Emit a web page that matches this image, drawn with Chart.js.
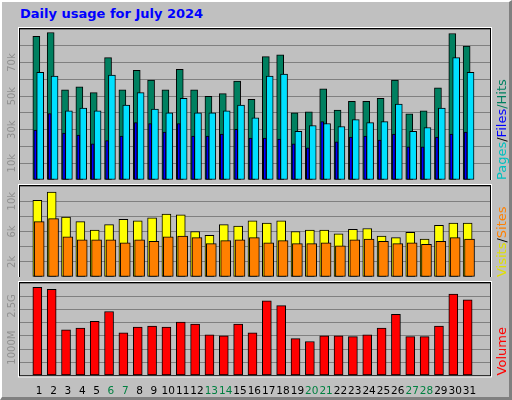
<!DOCTYPE html>
<html>
<head>
<meta charset="utf-8">
<script src="https://cdn.jsdelivr.net/npm/chart.js@4"></script>
<style>
  body { margin: 0; background: #c0c0c0; }
  #page { position: relative; width: 507px; height: 395px; background: #c0c0c0;
          border-top: 2px solid #fff; border-left: 2px solid #fff;
          border-right: 3px solid #808080; border-bottom: 3px solid #808080; overflow: hidden; }
  #title { position: absolute; left: 18px; top: 4px; font: bold 13px "DejaVu Sans"; color: #0000ff; }
  canvas { position: absolute; left: -2px; }
</style>
</head>
<body>
<div id="page">
  <div id="title">Daily usage for July 2024</div>
  <canvas id="c1" width="512" height="156" style="top:22px"></canvas>
  <canvas id="c2" width="512" height="96" style="top:179px"></canvas>
  <canvas id="c3" width="512" height="122" style="top:276px"></canvas>
</div>
<script>
const days = Array.from({ length: 31 }, (_, i) => i + 1);
const weekend = [6, 7, 13, 14, 20, 21, 27, 28];

const hits = [85.6, 87.9, 53.8, 55.6, 52.1, 72.9, 53.8, 65.4, 59.6, 53.8, 66.0, 53.8, 49.8, 51.5, 59.0, 48.1,
  73.5, 74.6, 40.0, 40.6, 54.4, 41.7, 46.9, 46.9, 48.7, 59.6, 39.4, 41.2, 55.0, 87.3, 79.8].map(v => v * 1000);
const files = [64.2, 61.9, 41.2, 42.9, 41.2, 62.5, 44.6, 52.1, 42.3, 40.0, 48.7, 40.0, 40.0, 41.2, 44.6, 37.1,
  61.9, 63.1, 29.0, 32.5, 33.7, 31.9, 36.0, 34.2, 34.8, 45.2, 29.0, 31.3, 42.9, 72.9, 64.2].map(v => v * 1000);
const pages = [29.8, 39.6, 27.9, 26.7, 21.5, 23.5, 26.2, 34.2, 33.7, 28.5, 33.7, 26.2, 26.2, 27.3, 30.2, 25.0,
  25.0, 24.4, 21.5, 19.2, 34.8, 22.7, 25.6, 26.2, 23.8, 27.3, 19.8, 19.8, 25.6, 27.3, 28.5].map(v => v * 1000);
const visits = [10.1, 11.2, 7.9, 7.3, 6.2, 6.9, 7.6, 7.4, 7.8, 8.3, 8.2, 6.0, 5.5, 6.9, 6.7, 7.4,
  7.1, 7.4, 6.0, 6.2, 6.2, 5.7, 6.3, 6.4, 5.4, 5.2, 5.9, 5.0, 6.8, 7.1, 7.1].map(v => v * 1000);
const sites = [7.3, 7.7, 5.3, 4.9, 4.9, 4.9, 4.5, 4.9, 4.7, 5.3, 5.4, 5.2, 4.4, 4.8, 4.9, 5.2,
  4.5, 4.8, 4.4, 4.4, 4.5, 4.1, 4.9, 5.0, 4.7, 4.4, 4.5, 4.3, 4.7, 5.2, 5.0].map(v => v * 1000);
const volumeMB = [3174, 3105, 1640, 1709, 1953, 2302, 1535, 1744, 1779, 1744, 1919, 1849, 1465, 1430, 1849, 1535,
  2686, 2512, 1326, 1221, 1430, 1430, 1395, 1465, 1709, 2198, 1395, 1395, 1779, 2930, 2721];

const topTicks = { 10000: "10k", 30000: "30k", 50000: "50k", 70000: "70k" };
const midTicks = { 2000: "2k", 6000: "6k", 10000: "10k" };
const volTicks = { 1000: "1000M", 2500: "2.5G" };

const pts = (arr, off) => arr.map((v, i) => ({ x: days[i] + off, y: v }));
const bar = (label, data, color, width, order) => ({
  label, data, order, backgroundColor: color, borderColor: "#000", borderWidth: 1,
  barThickness: width, grouped: false, borderSkipped: false
});

// panel frame, rotated y labels and right-hand colored titles
const framePlugin = {
  id: "frame",
  afterDraw(chart, args, opts) {
    const { ctx, chartArea: a } = chart;
    const y = chart.scales.y;
    ctx.save();
    ctx.strokeStyle = "#000"; ctx.lineWidth = 1;
    ctx.strokeRect(a.left - 0.5, a.top - 0.5, a.right - a.left + 1, a.bottom - a.top + 1);
    ctx.strokeStyle = "#fff";
    ctx.strokeRect(a.left - 1.5, a.top - 1.5, a.right - a.left + 3, a.bottom - a.top + 3);

    ctx.font = "10px 'DejaVu Sans'";
    ctx.fillStyle = "#909090";
    ctx.textAlign = "center"; ctx.textBaseline = "middle";
    Object.keys(opts.labels).forEach(v => {
      ctx.save();
      ctx.translate(a.left - 8, y.getPixelForValue(+v));
      ctx.rotate(-Math.PI / 2);
      ctx.fillText(opts.labels[v], 0, 0);
      ctx.restore();
    });

    ctx.translate(a.right + 13, a.bottom);
    ctx.rotate(-Math.PI / 2);
    ctx.font = "13px 'DejaVu Sans'";
    ctx.textAlign = "left";
    let x = 0;
    opts.parts.forEach(([t, c]) => {
      ctx.fillStyle = c; ctx.fillText(t, x, 0); x += ctx.measureText(t).width;
    });
    ctx.restore();
  }
};

function makeChart(id, datasets, yMax, yStep, yLabels, parts, showX) {
  return new Chart(document.getElementById(id), {
    type: "bar",
    data: { datasets },
    plugins: [framePlugin],
    options: {
      responsive: false, animation: false,
      layout: { padding: { left: 20, right: 22, top: 5, bottom: 0 } },
      plugins: { legend: { display: false }, tooltip: { enabled: false }, frame: { parts, labels: yLabels } },
      scales: {
        x: {
          type: "linear", min: 0.19, max: 31.9, display: showX,
          afterBuildTicks: s => { s.ticks = days.map(v => ({ value: v })); },
          grid: { display: false }, border: { display: false },
          ticks: {
            autoSkip: false, maxRotation: 0, padding: 2,
            font: { family: "DejaVu Sans", size: 10.5 },
            color: c => weekend.includes(c.tick.value) ? "#008040" : "#000",
            callback: v => String(v)
          }
        },
        y: {
          min: 0, max: yMax,
          grid: { color: "#808080", lineWidth: 1, drawTicks: false }, border: { display: false },
          ticks: { stepSize: yStep, display: false }
        }
      }
    }
  });
}

makeChart("c1", [
  bar("Hits", pts(hits, -0.2), "#008060", 7, 3),
  bar("Files", pts(files, 0.07), "#00e0ff", 7, 2),
  bar("Pages", pts(pages, -0.27), "#0000ff", 3, 1)
], 90000, 10000, topTicks, [["Pages", "#00c0c0"], ["/", "#000"], ["Files", "#0000ff"], ["/Hits", "#008060"]], false);

makeChart("c2", [
  bar("Visits", pts(visits, -0.13), "#ffff00", 9, 2),
  bar("Sites", pts(sites, 0), "#ff8000", 10, 1)
], 12000, 2000, midTicks, [["Visits", "#e0e000"], ["/", "#000"], ["Sites", "#ff8000"]], false);

makeChart("c3", [
  bar("Volume", pts(volumeMB, -0.13), "#ff0000", 9, 1)
], 3330, 500, volTicks, [["Volume", "#ff0000"]], true);
</script>
</body>
</html>
